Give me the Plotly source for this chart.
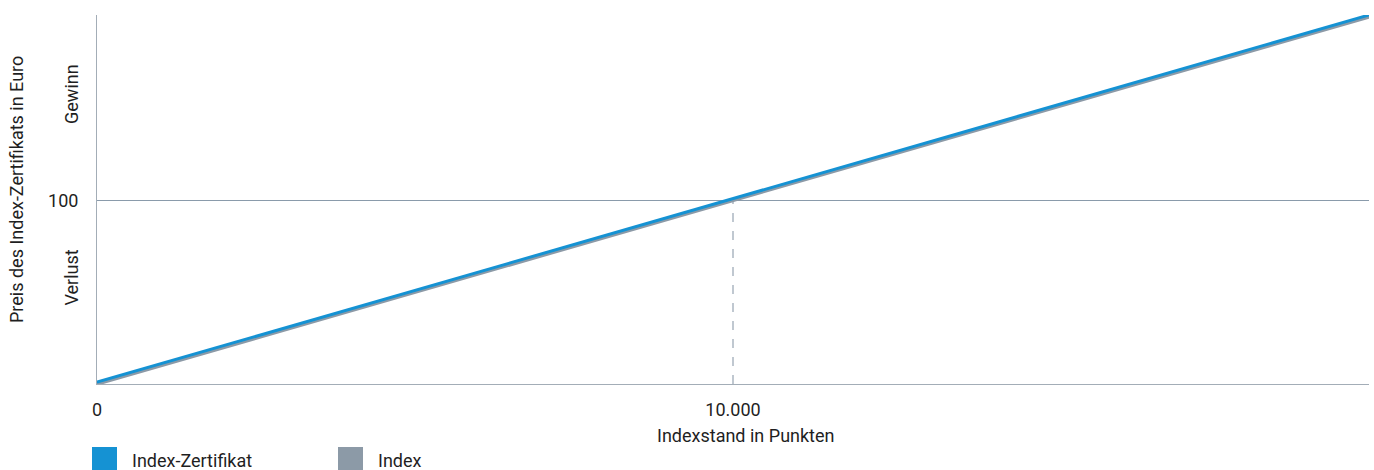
import plotly.graph_objects as go

# Data
indexstand = [0, 20000]
index_werte = [0, 200]
zertifikat_werte = [1, 201]
x_tickvals = [0, 10000]
x_ticktext = ["0", "10.000"]
y_tickvals = [100]
y_ticktext = ["100"]
serien = ["Index-Zertifikat", "Index"]
farben = ["#1592d3", "#8c9aa7"]

FONT = "Roboto, Liberation Sans, sans-serif"
TXT = "#1f1f1f"
FS = 18

W, H = 1374, 470
L, R, T, B = 97, 5, 15, 86
PW, PH = W - L - R, H - T - B


def px_x(p):
    return (p - L) / PW


def px_y(p):
    return (H - B - p) / PH


fig = go.Figure()
fig.add_trace(go.Scatter(x=indexstand, y=index_werte, mode="lines",
                         line=dict(color=farben[1], width=3.5), name=serien[1], showlegend=False))
fig.add_trace(go.Scatter(x=indexstand, y=zertifikat_werte, mode="lines",
                         line=dict(color=farben[0], width=3), name=serien[0], showlegend=False))

# dashed vertical at 10.000 up to 100
fig.add_shape(type="line", xref="x", yref="y", x0=10000, x1=10000, y0=0, y1=100,
              line=dict(color="#8191a2", width=1, dash="dash"), layer="below")

fig.update_layout(
    width=W, height=H,
    margin=dict(l=L, r=R, t=T, b=B),
    paper_bgcolor="white", plot_bgcolor="white",
    font=dict(family=FONT, size=FS, color=TXT),
    showlegend=False,
    xaxis=dict(range=[0, 20000], tickvals=x_tickvals, ticktext=x_ticktext,
               showgrid=False, zeroline=False, showline=True, linecolor="#a3adb7", linewidth=1,
               ticks="outside", ticklen=9, tickcolor="rgba(0,0,0,0)",
               tickfont=dict(size=FS, color=TXT), fixedrange=True),
    yaxis=dict(range=[0, 201], tickvals=y_tickvals, ticktext=y_ticktext,
               showgrid=True, gridcolor="#8a9bab", gridwidth=1, zeroline=False,
               showline=True, linecolor="#a3adb7", linewidth=1,
               ticks="outside", ticklen=14, tickcolor="rgba(0,0,0,0)",
               tickfont=dict(size=FS, color=TXT), fixedrange=True),
)

ann = []
ann.append(dict(text="Gewinn", xref="paper", yref="y", x=0, y=158, xshift=-25,
                xanchor="center", yanchor="middle",
                textangle=-90, showarrow=False, font=dict(size=FS, color=TXT)))
ann.append(dict(text="Verlust", xref="paper", yref="y", x=0, y=58, xshift=-25,
                xanchor="center", yanchor="middle",
                textangle=-90, showarrow=False, font=dict(size=FS, color=TXT)))
ann.append(dict(text="Preis des Index-Zertifikats in Euro", xref="paper", yref="paper",
                x=px_x(16), y=px_y(190), xanchor="center", yanchor="middle",
                textangle=-90, showarrow=False, font=dict(size=FS, color=TXT)))
ann.append(dict(text="Indexstand in Punkten", xref="x", yref="paper", x=10000, y=px_y(435),
                xshift=13, xanchor="center", yanchor="middle", showarrow=False,
                font=dict(size=FS, color=TXT)))

# legend built from shapes + text
leg_x = [92, 338]
for i, name in enumerate(serien):
    fig.add_shape(type="rect", xref="paper", yref="paper",
                  x0=px_x(leg_x[i]), x1=px_x(leg_x[i] + 25),
                  y0=px_y(472), y1=px_y(447),
                  fillcolor=farben[i], line=dict(width=0))
    ann.append(dict(text=name, xref="paper", yref="paper",
                    x=px_x(leg_x[i] + 38), y=px_y(460),
                    xanchor="left", yanchor="middle", showarrow=False,
                    font=dict(size=FS, color=TXT)))

fig.update_layout(annotations=ann)
fig.write_html("out.html", config={"displayModeBar": False},
               post_script="document.body.style.margin='0';document.body.style.overflow='hidden';")
